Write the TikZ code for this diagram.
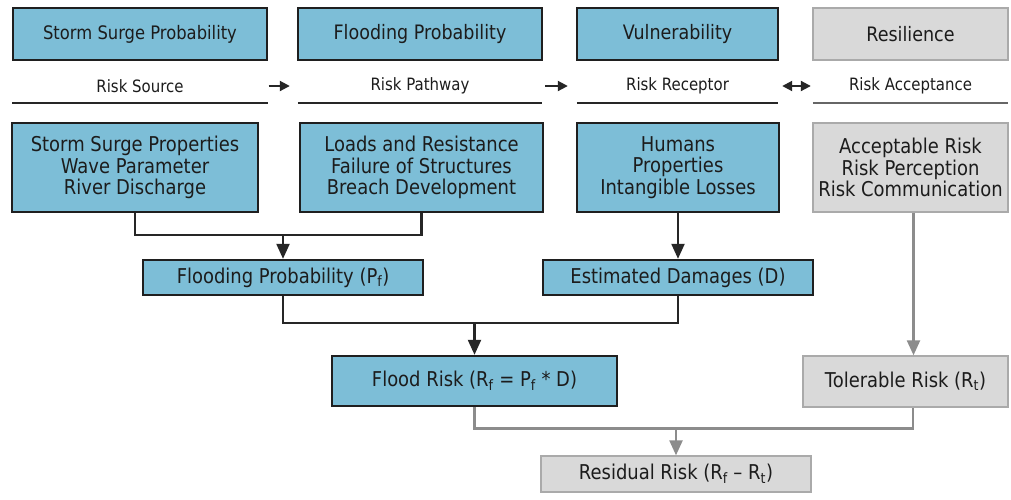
\documentclass[tikz,border=0pt]{standalone}
\usepackage{fontspec}
\setmainfont{DejaVu Sans}[FakeStretch=0.88]
\usetikzlibrary{arrows.meta}
\definecolor{boxblue}{RGB}{125,190,215}
\definecolor{boxgray}{RGB}{217,217,217}
\definecolor{graybd}{RGB}{170,170,170}
\definecolor{txt}{RGB}{28,28,28}
\definecolor{grayln}{RGB}{140,140,140}
\begin{document}
\begin{tikzpicture}[x=1pt,y=-1pt,
  bluebox/.style={draw=black!88, line width=2.4pt, fill=boxblue, inner sep=0pt, text=txt, align=center},
  graybox/.style={draw=graybd, line width=1.4pt, fill=boxgray, inner sep=0pt, text=txt, align=center},
  headsmall/.style={font=\fontsize{18.6}{21}\selectfont},
  head/.style={font=\fontsize{19.9}{22}\selectfont},
  body/.style={font=\fontsize{20.4}{21.7}\selectfont},
  lbl/.style={font=\fontsize{17}{18}\selectfont, text=txt, inner sep=0pt, minimum height=34},
  uline/.style={line width=2.2pt, draw=black!85},
  guline/.style={line width=1.6pt, draw=black!60},
  conn/.style={line width=2.2pt, draw=black!85},
  gconn/.style={line width=2.4pt, draw=grayln},
  tip/.style={-{Triangle[length=15pt,width=13pt]}},
  smalltip/.style={line width=2pt, draw=black!85, -{Triangle[length=10pt,width=10pt]}},
  dbltip/.style={line width=2pt, draw=black!85, {Triangle[length=10pt,width=10pt]}-{Triangle[length=10pt,width=10pt]}}
]
\useasboundingbox[fill=white] (0,0) rectangle (1011,499);

% top row
\node[bluebox, headsmall, minimum width=254, minimum height=52] (t1) at (140,34) {Storm Surge Probability};
\node[bluebox, head, minimum width=244, minimum height=52] (t2) at (420,34) {Flooding Probability};
\node[bluebox, head, minimum width=201, minimum height=52] (t3) at (677.5,34) {Vulnerability};
\node[graybox, head, minimum width=195, minimum height=52] (t4) at (910.5,34) {Resilience};

% risk labels
\node[lbl, minimum width=255] (l1) at (140,86) {Risk Source};
\node[lbl, minimum width=244] (l2) at (420,86) {Risk Pathway};
\node[lbl, minimum width=201] (l3) at (677.5,86) {Risk Receptor};
\node[lbl, minimum width=195] (l4) at (910.5,86) {Risk Acceptance};
\draw[uline] (l1.south west) -- (l1.south east);
\draw[uline] (l2.south west) -- (l2.south east);
\draw[uline] (l3.south west) -- (l3.south east);
\draw[guline] (l4.south west) -- (l4.south east);
\draw[smalltip] ([xshift=1pt]l1.east) -- ([xshift=-8pt]l2.west);
\draw[smalltip] ([xshift=3pt]l2.east) -- ([xshift=-9pt]l3.west);
\draw[dbltip] ([xshift=4pt]l3.east) -- ([xshift=-2pt]l4.west);

% middle row
\node[bluebox, body, minimum width=246, minimum height=89] (m1) at (135,167.5) {Storm Surge Properties\\Wave Parameter\\River Discharge};
\node[bluebox, body, minimum width=243, minimum height=89] (m2) at (421.5,167.5) {Loads and Resistance\\Failure of Structures\\Breach Development};
\node[bluebox, body, minimum width=202, minimum height=89] (m3) at (678,167.5) {Humans\\Properties\\Intangible Losses};
\node[graybox, body, minimum width=195, minimum height=89] (m4) at (910.5,167.5) {Acceptable Risk\\Risk Perception\\Risk Communication};

% lower boxes
\node[bluebox, body, minimum width=280, minimum height=35] (pf) at (283,277.5) {Flooding Probability (P\textsubscript{f})};
\node[bluebox, body, minimum width=270, minimum height=35] (est) at (678,277.5) {Estimated Damages (D)};
\node[bluebox, body, minimum width=285, minimum height=50] (flood) at (474.5,381) {Flood Risk (R\textsubscript{f} = P\textsubscript{f} * D)};
\node[graybox, body, minimum width=205, minimum height=51] (tol) at (905.5,381.5) {Tolerable Risk (R\textsubscript{t})};
\node[graybox, body, minimum width=270, minimum height=36] (res) at (676,474) {Residual Risk (R\textsubscript{f} – R\textsubscript{t})};

% junctions
\path (pf.north) ++(0,-24) coordinate (j1);
\path (flood.north) ++(0,-32) coordinate (j2);
\path (res.north) ++(0,-27) coordinate (j3);

% connectors
\draw[conn] (m1.south) |- (j1) -| (m2.south);
\draw[conn, tip] (j1) -- (pf.north);
\draw[conn, tip] (m3.south) -- (est.north);
\draw[conn] (pf.south) |- (j2) -| (est.south);
\draw[conn, tip] (j2) -- (flood.north);
\draw[gconn, tip] ([xshift=3pt]m4.south) -- ([xshift=3pt]m4.south |- tol.north);
\draw[gconn] (flood.south) |- (j3) -| ([xshift=7.5pt]tol.south);
\draw[gconn, tip] (j3) -- (res.north);
\end{tikzpicture}
\end{document}
